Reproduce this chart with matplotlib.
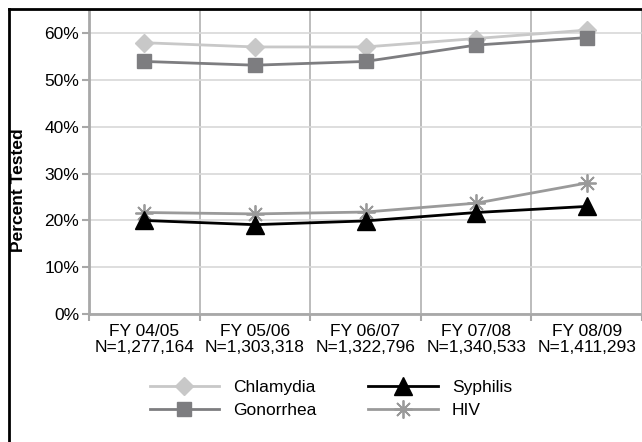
import matplotlib
matplotlib.use("Agg")
from matplotlib import pyplot
from matplotlib.lines import Line2D
import numpy

FIG_W = 6.42
FIG_H = 4.42
DPI = 100
FONT_SIZE = 12.5

years = ['FY 04/05', 'FY 05/06', 'FY 06/07', 'FY 07/08', 'FY 08/09']
counts = ['N=1,277,164', 'N=1,303,318', 'N=1,322,796', 'N=1,340,533', 'N=1,411,293']

chlamydia = [58.0, 57.1, 57.1, 58.9, 60.7]
gonorrhea = [54.0, 53.2, 54.0, 57.5, 59.1]
syphilis = [20.0, 19.1, 19.9, 21.7, 23.0]
hiv = [21.7, 21.4, 21.8, 23.7, 28.0]

pyplot.rcParams['font.family'] = ['Liberation Sans', 'DejaVu Sans']

fig = pyplot.figure(figsize=(FIG_W, FIG_H), dpi=DPI)
ax = fig.add_axes([89 / 642, 1 - 314 / 442, 553 / 642, 304 / 442])

x = numpy.arange(len(years))

ax.plot(x, chlamydia, color='#c8c8c8', lw=2, marker='D', ms=9, mec='#c8c8c8',
        label='Chlamydia', zorder=3)
ax.plot(x, gonorrhea, color='#7d7d80', lw=2, marker='s', ms=10.5, mec='#7d7d80',
        label='Gonorrhea', zorder=3)
ax.plot(x, syphilis, color='black', lw=2, marker='^', ms=13, mec='black',
        label='Syphilis', zorder=4)
ax.plot(x, hiv, color='#9a9a9a', lw=2, marker=(8, 2, 0), ms=13, mew=1.3,
        mec='#9a9a9a', label='HIV', zorder=3)

ax.set_xlim(-0.5, len(years) - 0.5)
ax.set_ylim(0, 65)
ax.set_yticks(range(0, 61, 10))
ax.set_yticklabels([f'{v}%' for v in range(0, 61, 10)], fontsize=FONT_SIZE)
ax.yaxis.grid(True, color='#d8d8d8', lw=1.2)

# category separators
ax.set_xticks(numpy.arange(-0.5, len(years), 1.0))
ax.set_xticklabels([])
ax.xaxis.grid(True, color='#b0b0b0', lw=1.2)
ax.tick_params(axis='x', length=5, width=1.5, color='#a8a8a8')
ax.tick_params(axis='y', length=5, width=1.5, color='#a8a8a8', pad=2)
ax.set_axisbelow(True)

for i in x:
    ax.text(i, -2.2, years[i] + '\n' + counts[i], ha='center', va='top',
            fontsize=FONT_SIZE, linespacing=1.05)

for side in ['top', 'right']:
    ax.spines[side].set_visible(False)
for side in ['left', 'bottom']:
    ax.spines[side].set_color('#a8a8a8')
    ax.spines[side].set_linewidth(2)

fig.text(19 / 642, 1 - 190 / 442, 'Percent Tested', rotation=90, ha='center',
         va='center', fontsize=FONT_SIZE, fontweight='bold')

fig.legend(loc='upper left', bbox_to_anchor=(134 / 642, 1 - 364 / 442), ncol=2,
           frameon=False, fontsize=FONT_SIZE, handlelength=4.0, columnspacing=3.0,
           labelspacing=0.45, handletextpad=0.8)

# outer frame (left and top edges visible)
fig.add_artist(Line2D([9 / 642, 9 / 642], [0, 1 - 9 / 442], color='black', lw=2))
fig.add_artist(Line2D([9 / 642, 1], [1 - 9 / 442, 1 - 9 / 442], color='black', lw=2))

fig.savefig('out.png', dpi=DPI)
